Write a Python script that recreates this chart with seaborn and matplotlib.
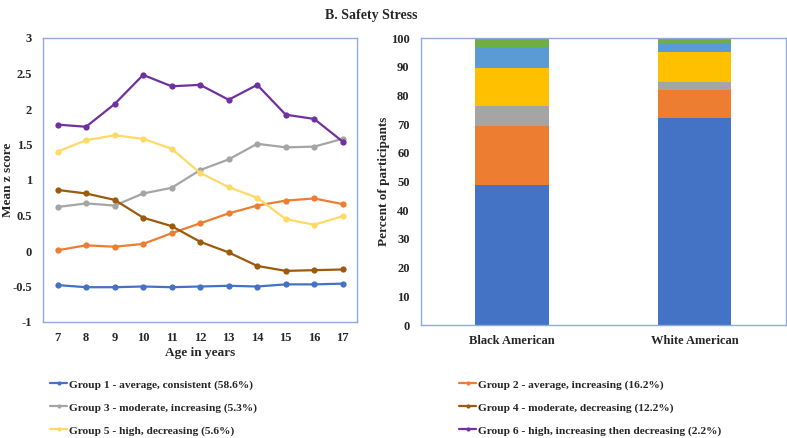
import matplotlib
matplotlib.use("Agg")
import matplotlib.pyplot as plt
import seaborn as sns
import pandas as pd
import numpy as np

# ---------------- data ----------------
ages = [7, 8, 9, 10, 11, 12, 13, 14, 15, 16, 17]
group_labels = [
    "Group 1 - average, consistent (58.6%)",
    "Group 2 - average, increasing (16.2%)",
    "Group 3 - moderate, increasing (5.3%)",
    "Group 4 - moderate, decreasing (12.2%)",
    "Group 5 - high, decreasing (5.6%)",
    "Group 6 - high, increasing then decreasing (2.2%)",
]
g1 = [-0.48, -0.51, -0.51, -0.50, -0.51, -0.50, -0.49, -0.50, -0.47, -0.47, -0.46]
g2 = [0.01, 0.08, 0.06, 0.10, 0.25, 0.39, 0.53, 0.64, 0.71, 0.74, 0.66]
g3 = [0.62, 0.67, 0.64, 0.81, 0.89, 1.14, 1.29, 1.51, 1.46, 1.47, 1.58]
g4 = [0.86, 0.81, 0.72, 0.47, 0.35, 0.13, -0.02, -0.21, -0.28, -0.27, -0.26]
g5 = [1.40, 1.56, 1.63, 1.58, 1.44, 1.10, 0.90, 0.75, 0.45, 0.37, 0.49]
g6 = [1.78, 1.75, 2.07, 2.48, 2.32, 2.34, 2.13, 2.34, 1.92, 1.86, 1.54]
line_series = [g1, g2, g3, g4, g5, g6]

race_categories = ["Black American", "White American"]
seg1 = [48.8, 72.3]
seg2 = [20.6, 9.8]
seg3 = [7.1, 2.7]
seg4 = [13.3, 10.4]
seg5 = [7.3, 3.3]
seg6 = [2.9, 1.5]
bar_segments = [seg1, seg2, seg3, seg4, seg5, seg6]

line_colors = ["#4472C4", "#ED7D31", "#A5A5A5", "#9C5A0C", "#FFD966", "#7030A0"]
bar_colors = ["#4472C4", "#ED7D31", "#A5A5A5", "#FFC000", "#5B9BD5", "#70AD47"]
frame_color = "#8FAADC"

# ---------------- style ----------------
sns.set_style("white")
plt.rcParams["font.family"] = ["Liberation Serif", "DejaVu Serif"]
plt.rcParams["font.weight"] = "bold"
plt.rcParams["axes.labelweight"] = "bold"

fig = plt.figure(figsize=(7.87, 4.38), dpi=100)
W, H = 787, 438
def box(x0, y0, x1, y1):
    return [x0 / W, 1 - y1 / H, (x1 - x0) / W, (y1 - y0) / H]

ax1 = fig.add_axes(box(43.3, 38, 357, 322))
ax2 = fig.add_axes(box(420.7, 38.3, 786, 325))

# ---------------- line chart ----------------
rows = []
for lab, vals in zip(group_labels, line_series):
    for a, v in zip(ages, vals):
        rows.append({"Age": a, "Score": v, "Group": lab})
df = pd.DataFrame(rows)
sns.lineplot(data=df, x="Age", y="Score", hue="Group", hue_order=group_labels,
             palette=line_colors, marker="o", markersize=4.5, markeredgewidth=0,
             linewidth=1.6, ax=ax1, legend=False)
ax1.set_xlim(6.5, 17.5)
ax1.set_ylim(-1, 3)
ax1.set_xticks(ages)
ax1.set_xticklabels([str(a) for a in ages], fontweight="bold", fontsize=9)
ax1.set_yticks([-1, -0.5, 0, 0.5, 1, 1.5, 2, 2.5, 3])
ax1.set_yticklabels(["-1", "-0.5", "0", "0.5", "1", "1.5", "2", "2.5", "3"],
                    fontweight="bold", fontsize=9)
ax1.set_xlabel("Age in years", fontsize=9.5, fontweight="bold")
ax1.set_ylabel("Mean z score", fontsize=9.5, fontweight="bold")
ax1.xaxis.set_label_coords(0.5, -0.088)
ax1.yaxis.set_label_coords(-0.093, 0.5)
ax1.tick_params(axis="both", length=0)
ax1.tick_params(axis="x", pad=7)
ax1.tick_params(axis="y", pad=8)

# ---------------- stacked bar chart ----------------
bottom = np.zeros(len(race_categories))
for seg, col in zip(bar_segments, bar_colors):
    bdf = pd.DataFrame({"Race": race_categories, "Pct": seg})
    sns.barplot(data=bdf, x="Race", y="Pct", color=col, width=0.4,
                bottom=bottom, ax=ax2, saturation=1, linewidth=0)
    bottom = bottom + np.array(seg)
ax2.set_xlim(-0.5, 1.5)
ax2.set_ylim(0, 100)
ax2.set_xticks([0, 1])
ax2.set_xticklabels(race_categories, fontweight="bold", fontsize=9)
ax2.set_yticks(range(0, 101, 10))
ax2.set_yticklabels([str(v) for v in range(0, 101, 10)], fontweight="bold", fontsize=9)
ax2.set_xlabel("")
ax2.set_ylabel("Percent of participants", fontsize=9.5, fontweight="bold")
ax2.yaxis.set_label_coords(-0.084, 0.5)
ax2.tick_params(axis="both", length=0)
ax2.tick_params(axis="x", pad=7)
ax2.tick_params(axis="y", pad=8)

for ax in (ax1, ax2):
    for sp in ax.spines.values():
        sp.set_visible(True)
        sp.set_color(frame_color)
        sp.set_linewidth(1.0)

# ---------------- title ----------------
fig.text(371.7 / W, 1 - 15 / H, "B. Safety Stress", ha="center", va="center",
         fontsize=10, fontweight="bold")

# ---------------- legend ----------------
handles = [plt.Line2D([], [], color=c, marker="o", markersize=3, linewidth=1.6,
                      markeredgewidth=0) for c in line_colors]
common = dict(loc="upper left", frameon=False, handlelength=1.5,
              handletextpad=0.15, labelspacing=1.12, borderpad=0, borderaxespad=0,
              prop={"weight": "bold", "size": 8.2})
fig.legend([handles[0], handles[2], handles[4]],
           [group_labels[0], group_labels[2], group_labels[4]],
           bbox_to_anchor=(50 / W, 1 - 379.5 / H), **common)
fig.legend([handles[1], handles[3], handles[5]],
           [group_labels[1], group_labels[3], group_labels[5]],
           bbox_to_anchor=(459 / W, 1 - 379.5 / H), **common)

fig.savefig("out.png", dpi=100)
